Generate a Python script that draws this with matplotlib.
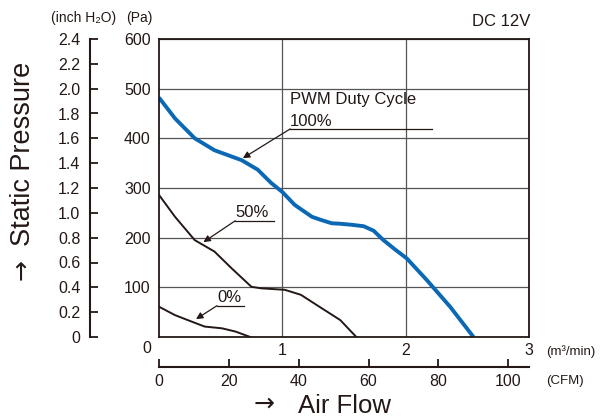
import matplotlib.pyplot as plt

plt.rcParams['font.family'] = ['Liberation Sans', 'DejaVu Sans']

# air flow (m3/min) and static pressure (Pa)
flow_100 = [0.0, 0.13, 0.29, 0.45, 0.67, 0.8, 0.91, 1.0, 1.1, 1.24, 1.31, 1.4, 1.47, 1.56,
            1.66, 1.74, 1.82, 1.91, 2.01, 2.17, 2.36, 2.55]
press_100 = [482, 440, 400, 376, 356, 337, 310, 292, 266, 242, 236, 229, 228, 226,
             223, 214, 195, 177, 158, 115, 61, 0]

flow_50 = [0.0, 0.13, 0.29, 0.45, 0.59, 0.75, 0.83, 1.02, 1.15, 1.3, 1.47, 1.6]
press_50 = [286, 242, 195, 172, 138, 101, 98, 95, 85, 61, 34, 0]

flow_0 = [0.0, 0.13, 0.265, 0.37, 0.51, 0.62, 0.74]
press_0 = [61, 44, 31, 21, 17.5, 11, 0]

pa_ticks = [100, 200, 300, 400, 500, 600]
inch_ticks = [0, 0.2, 0.4, 0.6, 0.8, 1.0, 1.2, 1.4, 1.6, 1.8, 2.0, 2.2, 2.4]
flow_ticks = [1, 2, 3]
cfm_ticks = [0, 20, 40, 60, 80, 100]

INK = '#231815'
W, H = 600, 419
fig = plt.figure(figsize=(6, 4.19), dpi=100)

# main chart
ax = fig.add_axes([159 / W, (H - 337) / H, 370 / W, 298 / H])
ax.plot(flow_100, press_100, color='#0a68b4', lw=2.8, solid_capstyle='butt')
ax.plot(flow_50, press_50, color=INK, lw=1.4)
ax.plot(flow_0, press_0, color=INK, lw=1.4)
ax.set_xlim(0, 3)
ax.set_ylim(0, 600)
ax.set_xticks(flow_ticks)
ax.set_yticks(pa_ticks)
ax.tick_params(length=0, labelsize=11.5, colors=INK)
ax.tick_params(axis='y', pad=6)
ax.tick_params(axis='x', pad=4)
ax.grid(True, color='#555555', lw=0.9)
for s in ax.spines.values():
    s.set_linewidth(1.3)
    s.set_color(INK)

fig.text(147 / W, 1 - 348 / H, '0', fontsize=11.5, ha='center', va='center', color=INK)
fig.text(546 / W, 1 - 352 / H, '(m³/min)', fontsize=9.5, ha='left', va='center', color=INK)
fig.text(546 / W, 1 - 381 / H, '(CFM)', fontsize=9.5, ha='left', va='center', color=INK)
fig.text(530 / W, 1 - 22 / H, 'DC 12V', fontsize=12, ha='right', va='center', color=INK)
fig.text(51 / W, 1 - 18 / H, '(inch H₂O)', fontsize=10, ha='left', va='center', color=INK)
fig.text(126 / W, 1 - 18 / H, '(Pa)', fontsize=10, ha='left', va='center', color=INK)

# annotations
arrow = dict(arrowstyle='-|>', color=INK, lw=0.9, mutation_scale=10, shrinkA=0, shrinkB=0)
ax.annotate('', xy=(0.68, 360), xytext=(1.064, 419), arrowprops=arrow)
ax.plot([1.064, 2.21], [419, 419], color=INK, lw=0.9)
ax.text(1.064, 478, 'PWM Duty Cycle', fontsize=12, va='center', color=INK)
ax.text(1.064, 434, '100%', fontsize=12, va='center', color=INK)

ax.annotate('', xy=(0.36, 191), xytext=(0.618, 234), arrowprops=arrow)
ax.plot([0.618, 0.93], [234, 234], color=INK, lw=0.9)
ax.text(0.618, 251, '50%', fontsize=12, va='center', color=INK)

ax.annotate('', xy=(0.30, 36), xytext=(0.47, 63), arrowprops=arrow)
ax.plot([0.47, 0.69], [63, 63], color=INK, lw=0.9)
ax.text(0.47, 80, '0%', fontsize=12, va='center', color=INK)

# inch H2O scale on the far left
ax_in = fig.add_axes([90 / W, (H - 337) / H, 0.001, 298 / H])
ax_in.set_ylim(0, 2.4)
ax_in.set_yticks(inch_ticks)
ax_in.set_yticklabels(['0'] + ['%.1f' % v for v in inch_ticks[1:]])
ax_in.set_xticks([])
ax_in.tick_params(axis='y', direction='in', length=6, width=1.3, labelsize=11.5,
                  colors=INK, pad=7)
for k in ['top', 'right', 'bottom']:
    ax_in.spines[k].set_visible(False)
ax_in.spines['left'].set_linewidth(1.5)
ax_in.spines['left'].set_color(INK)
ax_in.patch.set_visible(False)

# CFM scale below
ax_cfm = fig.add_axes([159 / W, (H - 367) / H, 370 / W, 0.001])
ax_cfm.set_xlim(0, 3 * 35.3147)
ax_cfm.set_xticks(cfm_ticks)
ax_cfm.set_yticks([])
ax_cfm.tick_params(axis='x', direction='in', length=6, width=1.3, labelsize=11.5,
                   colors=INK, pad=5)
for k in ['top', 'right', 'left']:
    ax_cfm.spines[k].set_visible(False)
ax_cfm.spines['bottom'].set_linewidth(1.5)
ax_cfm.spines['bottom'].set_color(INK)
ax_cfm.patch.set_visible(False)

# axis titles
fig.text(254 / W, 1 - 404 / H, '→', fontsize=18, family='DejaVu Sans', ha='left', va='center', color=INK)
fig.text(298 / W, 1 - 418 / H, 'Air Flow', fontsize=18.5, ha='left', va='bottom', color=INK)
fig.text(21 / W, 1 - 269 / H, '→', fontsize=18, family='DejaVu Sans', rotation=90,
         ha='center', va='center', color=INK)
fig.text(23 / W, 1 - 62 / H, 'Static Pressure', fontsize=19.5, rotation=90,
         ha='center', va='top', color=INK)

fig.savefig('out.png', dpi=100)
